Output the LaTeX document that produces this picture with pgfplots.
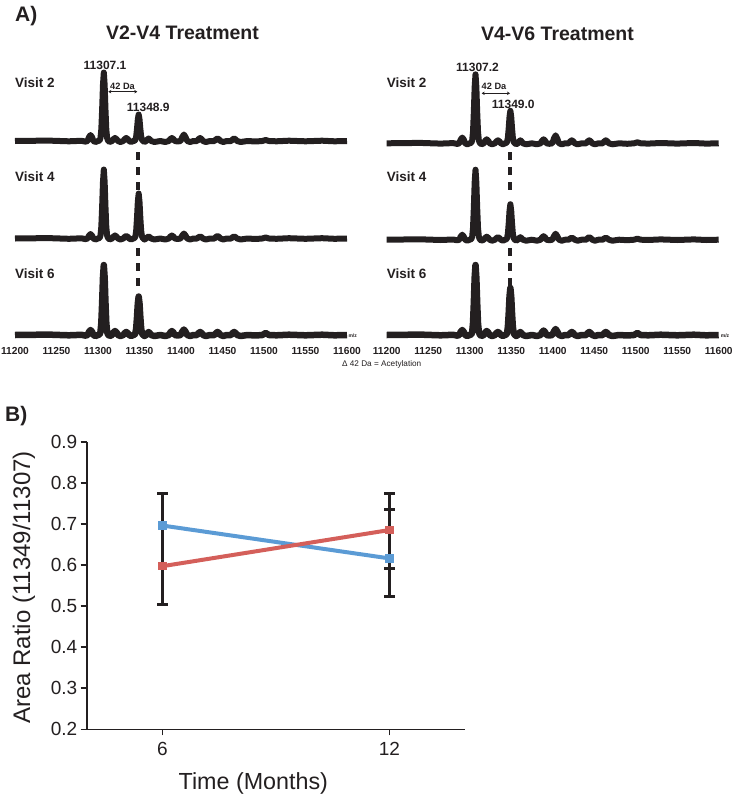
\documentclass[border=0pt]{standalone}
\usepackage{pgfplots}
\pgfplotsset{compat=1.18}
\usepackage{fontspec}
\setmainfont{Liberation Sans}
\usetikzlibrary{arrows.meta}
\definecolor{ink}{HTML}{231F20}
\definecolor{lblue}{HTML}{5B9BD5}
\definecolor{lred}{HTML}{D45F5A}
\pgfplotsset{
 spec/.style={x=0.83bp, y=1bp, xmin=11200, xmax=11600, ymin=0, ymax=70,
   hide axis, clip=false, anchor=south west, enlargelimits=false},
 specsix/.style={x=0.83bp, y=1bp, xmin=11200, xmax=11600, ymin=0, ymax=70,
   clip=false, anchor=south west, enlargelimits=false, scaled x ticks=false,
   axis x line*=bottom, hide y axis, axis line style={draw=none}, major tick length=0pt,
   xtick={11200,11250,11300,11350,11400,11450,11500,11550,11600},
   xticklabels={11200,11250,11300,11350,11400,11450,11500,11550,11600},
   xticklabel style={font=\fontsize{10.2bp}{12bp}\selectfont\bfseries, text=ink, anchor=base, inner sep=0pt, yshift=-19bp}},
 specline/.style={ink, line width=6bp, line join=round, line cap=butt, mark=none},
}
\begin{document}
\begin{tikzpicture}
\useasboundingbox (0,0) rectangle (738bp,-796bp);
% ---------- Panel A, left ----------
\begin{axis}[spec, at={(15bp,-141bp)}]
\addplot[specline] coordinates {(11200,0) (11240,0.4) (11265,-0.3) (11280,0.2) (11285,-0.6)
(11287.5,0) (11289,3.6) (11291,6) (11293,3.6) (11294.5,0) (11297,-1) (11300,0)
(11302,0.5) (11303,3.0) (11304,11.6) (11305,31.5) (11306,56.2) (11307,68.5) (11308,56.2) (11309,31.5) (11310,11.6) (11311,3.0) (11312,0.5)
(11314,-1) (11317,0) (11318.5,1.8) (11320.5,3) (11322.5,1.8) (11324,0) (11327,-1)
(11330.5,0) (11332,1.8) (11334,3) (11336,1.8) (11337.5,0) (11340,-1) (11342.5,0)
(11344,0.2) (11345,1.2) (11346,4.5) (11347,12.2) (11348,21.7) (11349,26.5) (11350,21.7) (11351,12.2) (11352,4.5) (11353,1.2) (11354,0.2)
(11356,-1) (11358,0) (11359.5,1.5) (11361,2.5) (11362.5,1.5) (11364,0) (11368,-1) (11375,0) (11381,-1)
(11385.5,0) (11387,1.8) (11389,3) (11391,1.8) (11392.5,0) (11396,-0.5)
(11399.5,0) (11401.5,3.9) (11403.5,6.5) (11405.5,3.9) (11407.5,0) (11411,-1) (11415,0)
(11419.5,0) (11421,1.8) (11423,3) (11425,1.8) (11426.5,0) (11430,-1) (11435,0)
(11440.5,0) (11442,1.5) (11444,2.5) (11446,1.5) (11447.5,0) (11451,-1) (11455,0)
(11460.5,0) (11462,1.5) (11464,2.5) (11466,1.5) (11467.5,0) (11472,-1) (11480,0) (11490,-0.5)
(11498,0) (11502,1) (11506,0) (11515,-0.3) (11530,0.3) (11550,-0.3) (11570,0.3) (11585,-0.3) (11600,0)};
\end{axis}
\begin{axis}[spec, at={(15bp,-238.5bp)}]
\addplot[specline] coordinates {(11200,0) (11240,0.4) (11265,-0.3) (11280,0.2) (11285,-0.6)
(11287.5,0) (11289,2.7) (11291,4.5) (11293,2.7) (11294.5,0) (11297,-1) (11300,0)
(11302,0.6) (11303,3.0) (11304,11.7) (11305,31.7) (11306,56.6) (11307,69) (11308,56.6) (11309,31.7) (11310,11.7) (11311,3.0) (11312,0.6)
(11314,-1) (11317,0) (11318.5,1.8) (11320.5,3) (11322.5,1.8) (11324,0) (11327,-1)
(11330.5,0) (11332,1.5) (11334,2.5) (11336,1.5) (11337.5,0) (11340,-1) (11342.5,0)
(11344,0.4) (11345,2.0) (11346,7.7) (11347,20.7) (11348,36.9) (11349,45) (11350,36.9) (11351,20.7) (11352,7.7) (11353,2.0) (11354,0.4)
(11356,-1) (11358,0) (11359.5,1.2) (11361,2) (11362.5,1.2) (11364,0) (11368,-1) (11375,0) (11381,-1)
(11385.5,0) (11387,1.8) (11389,3) (11391,1.8) (11392.5,0) (11396,-0.5)
(11399.5,0) (11401.5,3) (11403.5,5) (11405.5,3) (11407.5,0) (11411,-1) (11415,0)
(11419.5,0) (11421,1.2) (11423,2) (11425,1.2) (11426.5,0) (11430,-1) (11435,0)
(11440.5,0) (11442,1.5) (11444,2.5) (11446,1.5) (11447.5,0) (11451,-1) (11455,0)
(11460.5,0) (11462,1.2) (11464,2) (11466,1.2) (11467.5,0) (11472,-1) (11480,0) (11490,-0.5)
(11498,0) (11502,1) (11506,0) (11515,-0.3) (11530,0.3) (11550,-0.3) (11570,0.3) (11585,-0.3) (11600,0)};
\end{axis}
\begin{axis}[specsix, at={(15bp,-335bp)}]
\addplot[specline, line width=6.5bp] coordinates {(11200,0) (11240,0.4) (11265,-0.3) (11280,0.2) (11285,-0.6)
(11287.5,0) (11289,3) (11291,5) (11293,3) (11294.5,0) (11297,-1) (11300,0)
(11302,0.6) (11303,3.1) (11304,11.9) (11305,32.2) (11306,57.4) (11307,70) (11308,57.4) (11309,32.2) (11310,11.9) (11311,3.1) (11312,0.6)
(11314,-1) (11317,0) (11318.5,2.4) (11320.5,4) (11322.5,2.4) (11324,0) (11327,-1)
(11330.5,0) (11332,1.8) (11334,3) (11336,1.8) (11337.5,0) (11340,-1) (11342.5,0)
(11344,0.3) (11345,1.7) (11346,6.5) (11347,17.7) (11348,31.6) (11349,38.5) (11350,31.6) (11351,17.7) (11352,6.5) (11353,1.7) (11354,0.3)
(11356,-1) (11358,0) (11359.5,1.8) (11361,3) (11362.5,1.8) (11364,0) (11368,-1) (11375,0) (11381,-1)
(11385.5,0) (11387,2.4) (11389,4) (11391,2.4) (11392.5,0) (11396,-0.5)
(11399.5,0) (11401.5,3.3) (11403.5,5.5) (11405.5,3.3) (11407.5,0) (11411,-1) (11415,0)
(11419.5,0) (11421,1.8) (11423,3) (11425,1.8) (11426.5,0) (11430,-1) (11435,0)
(11440.5,0) (11442,1.8) (11444,3) (11446,1.8) (11447.5,0) (11451,-1) (11455,0)
(11460.5,0) (11462,1.8) (11464,3) (11466,1.8) (11467.5,0) (11472,-1) (11480,0) (11490,-0.5)
(11498,0) (11502,2) (11506,0) (11515,-0.3) (11530,0.3) (11550,-0.3) (11570,0.3) (11585,-0.3) (11600,0)};
\end{axis}
% ---------- Panel A, right ----------
\begin{axis}[spec, at={(386.7bp,-143.3bp)}]
\addplot[specline] coordinates {(11200,0) (11240,0.4) (11265,-0.3) (11280,0.2) (11285,-0.6)
(11287.5,0) (11289,3.5) (11291,5.8) (11293,3.5) (11294.5,0) (11297,-1) (11300,0)
(11302,0.6) (11303,3.0) (11304,11.7) (11305,31.7) (11306,56.6) (11307,69) (11308,56.6) (11309,31.7) (11310,11.7) (11311,3.0) (11312,0.6)
(11314,-1) (11317,0) (11318.5,2.4) (11320.5,4) (11322.5,2.4) (11324,0) (11327,-1)
(11330.5,0) (11332,1.8) (11334,3) (11336,1.8) (11337.5,0) (11340,-1) (11342.5,0)
(11344,0.3) (11345,1.4) (11346,5.5) (11347,15.0) (11348,26.7) (11349,32.5) (11350,26.7) (11351,15.0) (11352,5.5) (11353,1.4) (11354,0.3)
(11356,-1) (11358,0) (11359.5,1.8) (11361,3) (11362.5,1.8) (11364,0) (11368,-1) (11375,0) (11381,-1)
(11385.5,0) (11387,2.4) (11389,4) (11391,2.4) (11392.5,0) (11396,-0.5)
(11399.5,0) (11401.5,4.8) (11403.5,8) (11405.5,4.8) (11407.5,0) (11411,-1) (11415,0)
(11419.5,0) (11421,1.8) (11423,3) (11425,1.8) (11426.5,0) (11430,-1) (11435,0)
(11440.5,0) (11442,1.8) (11444,3) (11446,1.8) (11447.5,0) (11451,-1) (11455,0)
(11460.5,0) (11462,1.8) (11464,3) (11466,1.8) (11467.5,0) (11472,-1) (11480,0) (11490,-0.5)
(11498,0) (11502,1) (11506,0) (11515,-0.3) (11530,0.3) (11550,-0.3) (11570,0.3) (11585,-0.3) (11600,0)};
\end{axis}
\begin{axis}[spec, at={(386.7bp,-239.7bp)}]
\addplot[specline] coordinates {(11200,0) (11240,0.4) (11265,-0.3) (11280,0.2) (11285,-0.6)
(11287.5,0) (11289,3) (11291,5) (11293,3) (11294.5,0) (11297,-1) (11300,0)
(11302,0.6) (11303,3.1) (11304,11.9) (11305,32.2) (11306,57.4) (11307,70) (11308,57.4) (11309,32.2) (11310,11.9) (11311,3.1) (11312,0.6)
(11314,-1) (11317,0) (11318.5,1.8) (11320.5,3) (11322.5,1.8) (11324,0) (11327,-1)
(11330.5,0) (11332,1.5) (11334,2.5) (11336,1.5) (11337.5,0) (11340,-1) (11342.5,0)
(11344,0.3) (11345,1.6) (11346,6.0) (11347,16.3) (11348,29.1) (11349,35.5) (11350,29.1) (11351,16.3) (11352,6.0) (11353,1.6) (11354,0.3)
(11356,-1) (11358,0) (11359.5,1.5) (11361,2.5) (11362.5,1.5) (11364,0) (11368,-1) (11375,0) (11381,-1)
(11385.5,0) (11387,2.1) (11389,3.5) (11391,2.1) (11392.5,0) (11396,-0.5)
(11399.5,0) (11401.5,3.6) (11403.5,6) (11405.5,3.6) (11407.5,0) (11411,-1) (11415,0)
(11419.5,0) (11421,1.2) (11423,2) (11425,1.2) (11426.5,0) (11430,-1) (11435,0)
(11440.5,0) (11442,1.5) (11444,2.5) (11446,1.5) (11447.5,0) (11451,-1) (11455,0)
(11460.5,0) (11462,1.2) (11464,2) (11466,1.2) (11467.5,0) (11472,-1) (11480,0) (11490,-0.5)
(11498,0) (11502,1) (11506,0) (11515,-0.3) (11530,0.3) (11550,-0.3) (11570,0.3) (11585,-0.3) (11600,0)};
\end{axis}
\begin{axis}[specsix, at={(386.7bp,-335bp)}]
\addplot[specline, line width=6.5bp] coordinates {(11200,0) (11240,0.4) (11265,-0.3) (11280,0.2) (11285,-0.6)
(11287.5,0) (11289,3) (11291,5) (11293,3) (11294.5,0) (11297,-1) (11300,0)
(11302,0.6) (11303,3.1) (11304,11.9) (11305,32.2) (11306,57.4) (11307,70) (11308,57.4) (11309,32.2) (11310,11.9) (11311,3.1) (11312,0.6)
(11314,-1) (11317,0) (11318.5,2.4) (11320.5,4) (11322.5,2.4) (11324,0) (11327,-1)
(11330.5,0) (11332,1.8) (11334,3) (11336,1.8) (11337.5,0) (11340,-1) (11342.5,0)
(11344,0.4) (11345,2.1) (11346,8.0) (11347,21.6) (11348,38.5) (11349,47) (11350,38.5) (11351,21.6) (11352,8.0) (11353,2.1) (11354,0.4)
(11356,-1) (11358,0) (11359.5,1.8) (11361,3) (11362.5,1.8) (11364,0) (11368,-1) (11375,0) (11381,-1)
(11385.5,0) (11387,2.7) (11389,4.5) (11391,2.7) (11392.5,0) (11396,-0.5)
(11399.5,0) (11401.5,3.6) (11403.5,6) (11405.5,3.6) (11407.5,0) (11411,-1) (11415,0)
(11419.5,0) (11421,1.8) (11423,3) (11425,1.8) (11426.5,0) (11430,-1) (11435,0)
(11440.5,0) (11442,1.8) (11444,3) (11446,1.8) (11447.5,0) (11451,-1) (11455,0)
(11460.5,0) (11462,1.8) (11464,3) (11466,1.8) (11467.5,0) (11472,-1) (11480,0) (11490,-0.5)
(11498,0) (11502,2) (11506,0) (11515,-0.3) (11530,0.3) (11550,-0.3) (11570,0.3) (11585,-0.3) (11600,0)};
\end{axis}
% dashed guides
\draw[ink, line width=4.5bp, dash pattern=on 7.5bp off 7.5bp] (138bp,-152bp) -- (138bp,-191bp);
\draw[ink, line width=4.5bp, dash pattern=on 7.5bp off 7.5bp] (138bp,-248bp) -- (138bp,-287bp);
\draw[ink, line width=4.5bp, dash pattern=on 7.5bp off 7.5bp] (510bp,-152bp) -- (510bp,-191bp);
\draw[ink, line width=4.5bp, dash pattern=on 7.5bp off 7.5bp] (510bp,-248bp) -- (510bp,-287bp);
% 42 Da arrows
\draw[ink, line width=1.3bp, {Stealth[length=3bp,width=3.5bp]}-{Stealth[length=3bp,width=3.5bp]}] (108.3bp,-91.7bp) -- (137.3bp,-91.7bp);
\draw[ink, line width=1.3bp, {Stealth[length=3bp,width=3.5bp]}-{Stealth[length=3bp,width=3.5bp]}] (481.7bp,-93.3bp) -- (510bp,-93.3bp);
% texts panel A
\begin{scope}[every node/.style={inner sep=0pt, text=ink}]
\node[anchor=base west, font=\fontsize{21bp}{24bp}\selectfont\bfseries] at (15bp,-21.7bp) {A)};
\node[anchor=base, font=\fontsize{19.5bp}{22bp}\selectfont\bfseries] at (182.5bp,-39.3bp) {V2-V4 Treatment};
\node[anchor=base, font=\fontsize{19.5bp}{22bp}\selectfont\bfseries] at (557.5bp,-40bp) {V4-V6 Treatment};
\foreach \xx in {15,386.7}{
 \node[anchor=base west, font=\fontsize{13.5bp}{16bp}\selectfont\bfseries] at (\xx bp,-87.3bp) {Visit 2};
 \node[anchor=base west, font=\fontsize{13.5bp}{16bp}\selectfont\bfseries] at (\xx bp,-181.7bp) {Visit 4};
 \node[anchor=base west, font=\fontsize{13.5bp}{16bp}\selectfont\bfseries] at (\xx bp,-278.3bp) {Visit 6};
}
\node[anchor=base, font=\fontsize{12bp}{14bp}\selectfont\bfseries] at (105bp,-69.3bp) {11307.1};
\node[anchor=base, font=\fontsize{12bp}{14bp}\selectfont\bfseries] at (148.3bp,-111.3bp) {11348.9};
\node[anchor=base, font=\fontsize{12bp}{14bp}\selectfont\bfseries] at (477.5bp,-71.7bp) {11307.2};
\node[anchor=base, font=\fontsize{12bp}{14bp}\selectfont\bfseries] at (513.3bp,-108.3bp) {11349.0};
\node[anchor=base, font=\fontsize{9.2bp}{11bp}\selectfont\bfseries] at (122.5bp,-89.3bp) {42 Da};
\node[anchor=base, font=\fontsize{9.2bp}{11bp}\selectfont\bfseries] at (494bp,-89.3bp) {42 Da};
\node[anchor=base west, font=\fontsize{5bp}{6bp}\selectfont\bfseries] at (348.3bp,-337.3bp) {m/z};
\node[anchor=base west, font=\fontsize{5bp}{6bp}\selectfont\bfseries] at (720.7bp,-337.3bp) {m/z};
\node[anchor=base, font=\fontsize{8.2bp}{10bp}\selectfont] at (381.7bp,-366.7bp) {Δ 42 Da = Acetylation};
\node[anchor=base west, font=\fontsize{21bp}{24bp}\selectfont\bfseries] at (5bp,-421.7bp) {B)};
\end{scope}
% ---------- Panel B ----------
\begin{axis}[at={(86.7bp,-729.3bp)}, anchor=south west, scale only axis,
  width=378.4bp, height=287.6bp, xmin=4, xmax=14, ymin=0.2, ymax=0.9,
  axis x line*=bottom, axis y line*=left, clip=false,
  axis line style={ink, line width=1.6bp},
  xtick={6,12}, ytick={0.2,0.3,0.4,0.5,0.6,0.7,0.8,0.9},
  tick align=outside, major tick length=6bp, tick style={ink, line width=1.6bp},
  /pgf/number format/assume math mode=true,
  every tick label/.append style={font=\fontsize{19bp}{22bp}\selectfont, text=ink},
  xticklabel style={yshift=-3bp},
  yticklabel style={/pgf/number format/.cd, fixed, fixed zerofill, precision=1},
  xlabel={Time (Months)}, ylabel={Area Ratio (11349/11307)},
  xlabel style={font=\fontsize{23.3bp}{26bp}\selectfont, text=ink, at={(axis description cs:0.4403,-0.2086)}, anchor=base, inner sep=0pt},
  ylabel style={font=\fontsize{24bp}{27bp}\selectfont, text=ink, at={(axis description cs:-0.1498,0.493)}, anchor=base, inner sep=0pt},
]
\addplot[draw=none, mark=none, error bars/.cd, y dir=both, y explicit,
  error bar style={ink, line width=3bp}, error mark=|, error mark options={ink, line width=3bp, mark size=5.3bp}]
  coordinates {(6,0.6385) +- (0,0.1355) (12,0.683) +- (0,0.091)};
\addplot[draw=none, mark=none, error bars/.cd, y dir=both, y explicit,
  error bar style={ink, line width=3bp}, error mark=|, error mark options={ink, line width=3bp, mark size=5.3bp}]
  coordinates {(12,0.616) += (0,0.12) -= (0,0.092)};
\addplot[lblue, line width=4bp, mark=square*, mark size=2.2bp] coordinates {(6,0.696) (12,0.616)};
\addplot[lred, line width=4bp, mark=square*, mark size=2.2bp] coordinates {(6,0.597) (12,0.685)};
\end{axis}
\end{tikzpicture}
\end{document}
